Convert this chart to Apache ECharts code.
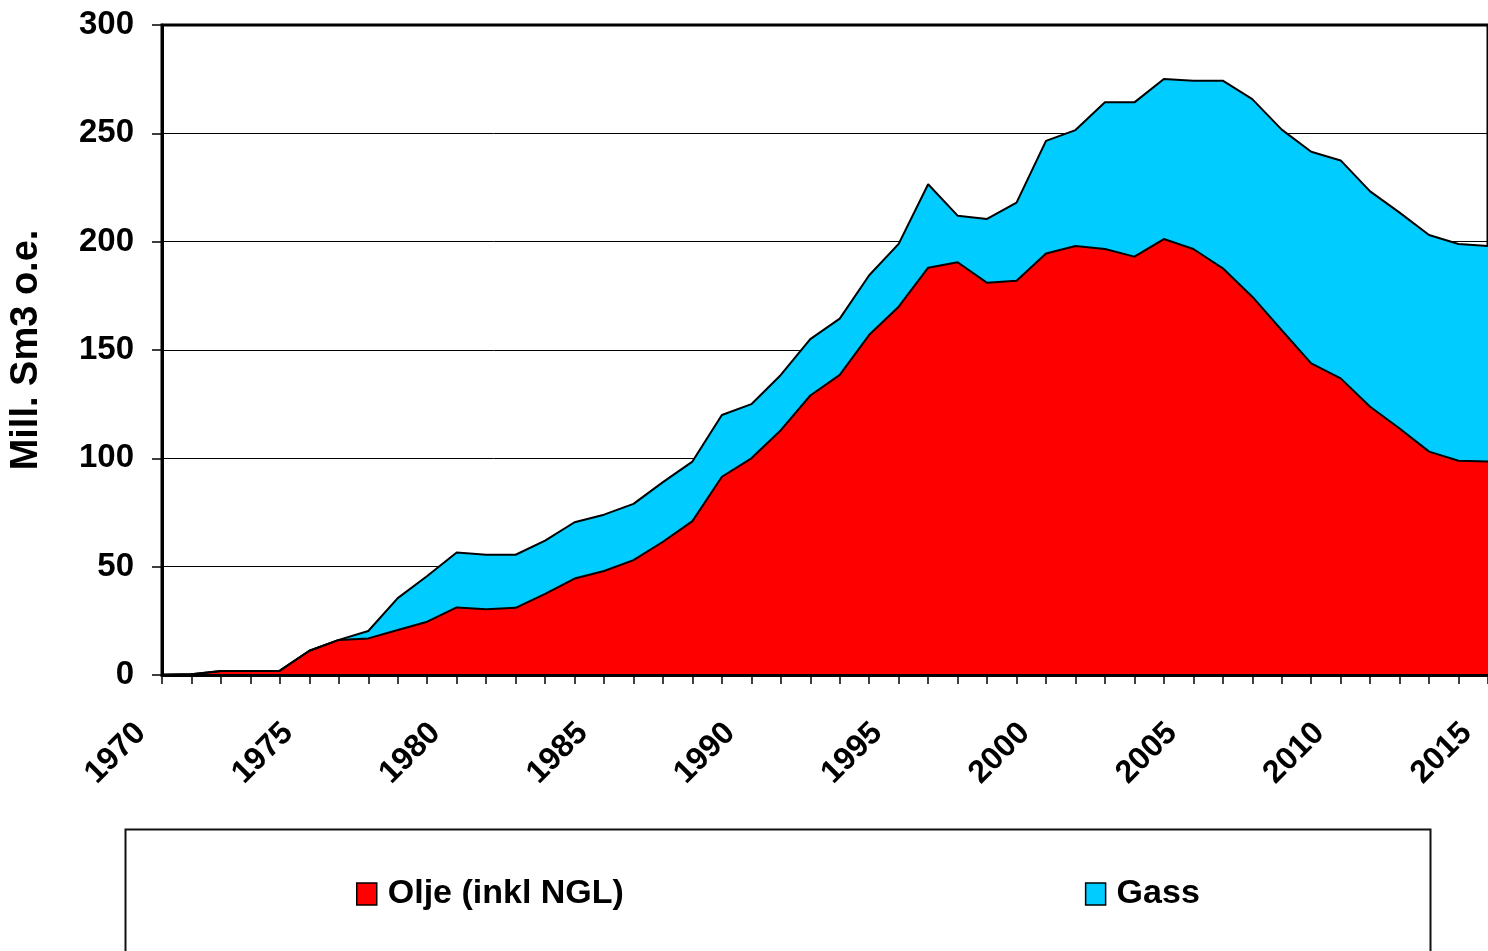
<!DOCTYPE html>
<html>
<head>
<meta charset="utf-8">
<script src="https://cdn.jsdelivr.net/npm/echarts@6/dist/echarts.min.js"></script>
<style>
html,body{margin:0;padding:0;background:#fff;}
#chart{width:1488px;height:951px;}
</style>
</head>
<body>
<div id="chart"></div>
<script>
var years = ['1970','1971','1972','1973','1974','1975','1976','1977','1978','1979',
  '1980','1981','1982','1983','1984','1985','1986','1987','1988','1989',
  '1990','1991','1992','1993','1994','1995','1996','1997','1998','1999',
  '2000','2001','2002','2003','2004','2005','2006','2007','2008','2009',
  '2010','2011','2012','2013','2014','2015'];
var oilNGL = [0, 0.4, 1.9, 1.9, 2.0, 11.2, 16.2, 16.9, 20.8, 24.6,
  31.2, 30.3, 31.0, 37.4, 44.5, 48.0, 53.0, 61.5, 71.0, 91.5,
  100.0, 113.0, 129.0, 138.5, 157.0, 170.0, 188.0, 190.5, 181.0, 182.0,
  194.5, 198.0, 196.6, 193.1, 201.2, 196.6, 187.7, 174.6, 159.1, 143.8,
  136.9, 123.8, 113.8, 103.1, 98.9, 98.5];
var gas = [0, 0, 0, 0, 0, 0, 0, 3.4, 14.7, 21.1,
  25.3, 25.2, 24.5, 24.6, 26.0, 26.0, 26.0, 27.5, 27.5, 28.5,
  25.0, 25.5, 26.0, 26.0, 27.5, 29.0, 38.5, 21.5, 29.5, 36.0,
  52.0, 53.5, 67.7, 71.2, 73.9, 77.7, 86.6, 91.2, 92.6, 97.7,
  100.6, 99.4, 99.6, 100.0, 100.0, 99.5];
var seriesNames = ['Olje (inkl NGL)', 'Gass'];
var seriesColors = ['#FF0000', '#00CCFF'];
var yTitle = 'Mill. Sm3 o.e.';

var FONT = "'Liberation Sans', Arial, sans-serif";
var chart = echarts.init(document.getElementById('chart'), null, {renderer: 'canvas'});
chart.setOption({
  animation: false,
  backgroundColor: '#fff',
  grid: {left: 160, top: 25, right: -4, bottom: 276, show: true, borderColor: '#000', borderWidth: 3, containLabel: false},
  legend: {
    left: 351, top: 872,
    icon: 'rect', itemWidth: 20, itemHeight: 22, itemGap: 461,
    textStyle: {fontFamily: FONT, fontWeight: 'bold', fontSize: 34, color: '#000', padding: [0, 0, 0, 6]},
    data: [
      {name: seriesNames[0], itemStyle: {color: seriesColors[0], borderColor: '#000', borderWidth: 1.5}},
      {name: seriesNames[1], itemStyle: {color: seriesColors[1], borderColor: '#000', borderWidth: 1.5}}
    ]
  },
  graphic: [{
    type: 'rect', left: 123, top: 827, silent: true,
    shape: {width: 1305, height: 200},
    style: {fill: 'none', stroke: '#111', lineWidth: 2}
  }],
  xAxis: {
    type: 'category', data: years, boundaryGap: false, z: 5,
    axisLine: {lineStyle: {color: '#000', width: 3}},
    axisTick: {interval: 0, length: 9, lineStyle: {color: '#000', width: 1.5}},
    axisLabel: {interval: 4, rotate: 45, margin: 32, padding: [0, 30, 0, 0],
      fontFamily: FONT, fontWeight: 'bold', fontSize: 32, color: '#000'},
    splitLine: {show: false}
  },
  yAxis: {
    type: 'value', min: 0, max: 300, interval: 50,
    name: yTitle, nameLocation: 'middle', nameRotate: 90, nameGap: 116,
    nameTextStyle: {fontFamily: FONT, fontWeight: 'bold', fontSize: 38, color: '#000'},
    axisLine: {show: true, lineStyle: {color: '#000', width: 3}},
    axisTick: {show: true, length: 10, lineStyle: {color: '#000', width: 1.5}},
    axisLabel: {margin: 28, fontFamily: FONT, fontWeight: 'bold', fontSize: 33, color: '#000'},
    splitLine: {show: true, lineStyle: {color: '#000', width: 1}}
  },
  series: [
    {
      name: seriesNames[0], type: 'line', stack: 'total', data: oilNGL,
      showSymbol: false, symbol: 'none',
      itemStyle: {color: seriesColors[0]},
      lineStyle: {color: '#000', width: 2},
      areaStyle: {color: seriesColors[0], opacity: 1}
    },
    {
      name: seriesNames[1], type: 'line', stack: 'total', data: gas,
      showSymbol: false, symbol: 'none',
      itemStyle: {color: seriesColors[1]},
      lineStyle: {color: '#000', width: 2},
      areaStyle: {color: seriesColors[1], opacity: 1}
    }
  ]
});
</script>
</body>
</html>
